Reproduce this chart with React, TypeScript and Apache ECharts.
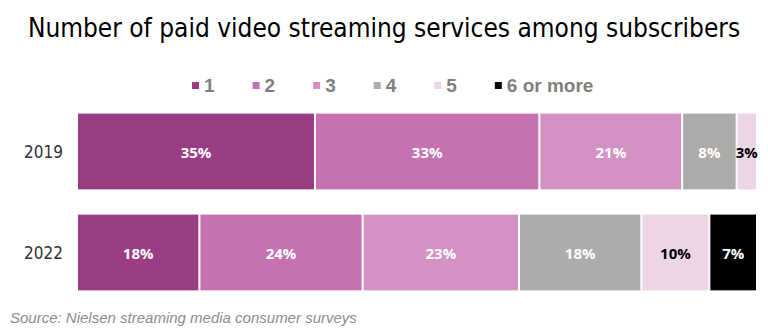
import React, { useEffect, useRef } from "react";
import * as echarts from "echarts";

const categories = ["2019", "2022"];
const seriesNames = ["1", "2", "3", "4", "5", "6 or more"];
const values1 = [35, 18];
const values2 = [33, 24];
const values3 = [21, 23];
const values4 = [8, 18];
const values5 = [3, 10];
const values6 = [0, 7];
const colors = ["#9B3D85", "#C672B2", "#D492C4", "#AEABAB", "#EDD5E8", "#000000"];
const labelColors = ["#fff", "#fff", "#fff", "#fff", "#000", "#fff"];

const narrow = "'Liberation Sans Narrow', 'Arial Narrow', 'DejaVu Sans Condensed', sans-serif";

export default function App() {
  const ref = useRef<HTMLDivElement>(null);
  useEffect(() => {
    if (!ref.current) return;
    const chart = echarts.init(ref.current, null, { renderer: "svg" });
    const all = [values1, values2, values3, values4, values5, values6];
    chart.setOption({
      animation: false,
      title: {
        text: "Number of paid video streaming services among subscribers",
        left: "center",
        top: 10,
        textStyle: {
          fontFamily: narrow,
          fontSize: 26,
          fontWeight: "normal",
          color: "#000",
        },
      },
      legend: {
        top: 71,
        left: 185,
        icon: "rect",
        itemWidth: 9,
        itemHeight: 9,
        itemGap: 36,
        textStyle: {
          fontFamily: "Liberation Sans",
          fontSize: 19,
          fontWeight: "bold",
          color: "#7F7F7F",
          padding: [0, 0, 0, -1],
        },
        data: seriesNames,
      },
      grid: { left: 77, right: 11, top: 101, bottom: 26 },
      xAxis: {
        type: "value",
        min: 0,
        max: 100,
        show: false,
      },
      yAxis: {
        type: "category",
        data: categories,
        inverse: true,
        axisLine: { show: false },
        axisTick: { show: false },
        axisLabel: {
          fontFamily: narrow,
          fontSize: 17,
          color: "#333",
          margin: 14,
        },
      },
      graphic: [
        {
          type: "text",
          left: 10,
          top: 310,
          style: {
            text: "Source: Nielsen streaming media consumer surveys",
            fontFamily: "Liberation Sans",
            fontStyle: "italic",
            fontSize: 15,
            fill: "#8C8C8C",
          },
        },
      ],
      series: all.map((vals, i) => ({
        name: seriesNames[i],
        type: "bar",
        stack: "total",
        barWidth: "77%",
        itemStyle: { color: colors[i], borderColor: "#fff", borderWidth: 1 },
        label: {
          show: true,
          position: "inside",
          formatter: (p: any) => (p.value > 0 ? p.value + "%" : ""),
          fontFamily: "Open Sans",
          fontWeight: "bold",
          fontSize: 15,
          color: labelColors[i],
        },
        data: vals,
      })),
    });
    return () => chart.dispose();
  }, []);
  return <div ref={ref} style={{ width: 768, height: 329, position: "absolute", left: 0, top: 0 }} />;
}
